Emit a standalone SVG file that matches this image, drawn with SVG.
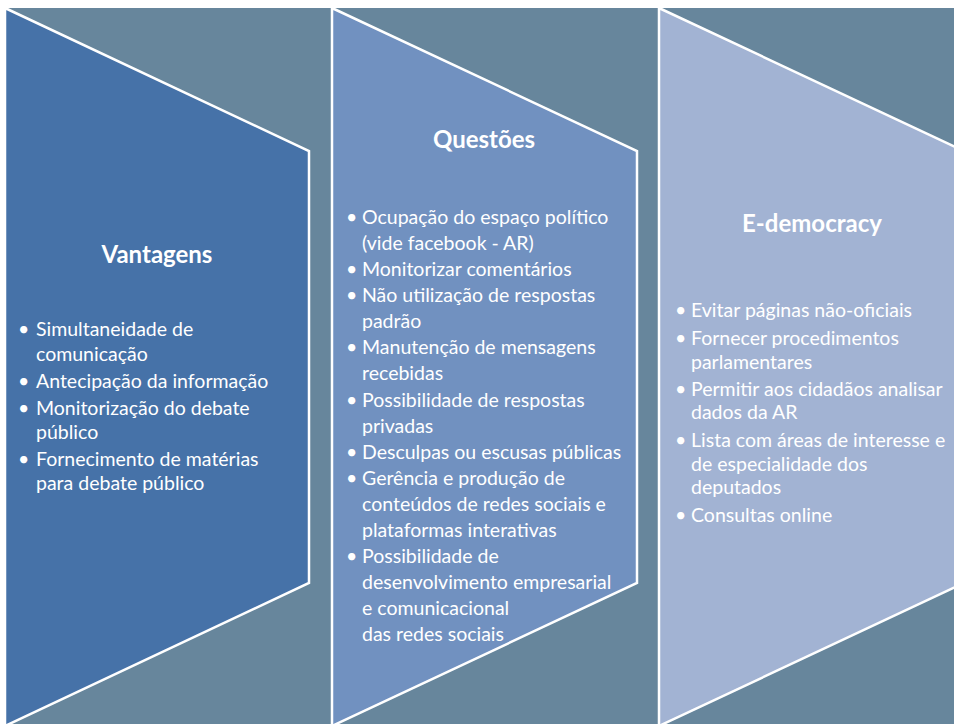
<svg xmlns="http://www.w3.org/2000/svg" width="954" height="724" viewBox="0 0 954 724">
<style>
.bg{fill:#67869c}
.chev{stroke:#ffffff;stroke-width:2.5;stroke-linejoin:miter}
.c1{fill:#4672a8}
.c2{fill:#7191c0}
.c3{fill:#a2b3d3}
.t{font-family:Lato,"Open Sans","Liberation Sans",sans-serif;fill:#ffffff}
.h{font-size:24px;font-weight:bold;text-anchor:middle}
.b{font-size:19.5px}
</style>
<rect x="0" y="0" width="954" height="724" fill="#ffffff"/>
<rect class="bg" x="4" y="8" width="950" height="716"/>
<g id="vantagens">
<polygon class="chev c1" points="5,8 309,151 309,583 5,726"/>
<text class="t h" x="157" y="263">Vantagens</text>
<g class="t b">
<text x="18" y="336">•</text><text x="36" y="336">Simultaneidade de</text>
<text x="36" y="361">comunicação</text>
<text x="18" y="388">•</text><text x="36" y="388">Antecipação da informação</text>
<text x="18" y="415">•</text><text x="36" y="415">Monitorização do debate</text>
<text x="36" y="439">público</text>
<text x="18" y="466">•</text><text x="36" y="466">Fornecimento de matérias</text>
<text x="36" y="490">para debate público</text>
</g>
</g>
<g id="questoes">
<polygon class="chev c2" points="332,8 637,151 637,583 332,726"/>
<text class="t h" x="484" y="148">Questões</text>
<g class="t b">
<text x="346" y="224">•</text><text x="362" y="224">Ocupação do espaço político</text>
<text x="362" y="250">(vide facebook - AR)</text>
<text x="346" y="276">•</text><text x="362" y="276">Monitorizar comentários</text>
<text x="346" y="302">•</text><text x="362" y="302">Não utilização de respostas</text>
<text x="362" y="328">padrão</text>
<text x="346" y="354">•</text><text x="362" y="354">Manutenção de mensagens</text>
<text x="362" y="380">recebidas</text>
<text x="346" y="407">•</text><text x="362" y="407">Possibilidade de respostas</text>
<text x="362" y="433">privadas</text>
<text x="346" y="459">•</text><text x="362" y="459">Desculpas ou escusas públicas</text>
<text x="346" y="485">•</text><text x="362" y="485">Gerência e produção de</text>
<text x="362" y="511">conteúdos de redes sociais e</text>
<text x="362" y="537">plataformas interativas</text>
<text x="346" y="563">•</text><text x="362" y="563">Possibilidade de</text>
<text x="362" y="589">desenvolvimento empresarial</text>
<text x="362" y="615">e comunicacional</text>
<text x="362" y="641">das redes sociais</text>
</g>
</g>
<g id="edemocracy">
<polygon class="chev c3" points="659,8 964,151 964,583 659,726"/>
<text class="t h" x="812" y="232">E-democracy</text>
<g class="t b">
<text x="675" y="317">•</text><text x="691" y="317">Evitar páginas não-oficiais</text>
<text x="675" y="345">•</text><text x="691" y="345">Fornecer procedimentos</text>
<text x="691" y="369">parlamentares</text>
<text x="675" y="396">•</text><text x="691" y="396">Permitir aos cidadãos analisar</text>
<text x="691" y="419">dados da AR</text>
<text x="675" y="447">•</text><text x="691" y="447">Lista com áreas de interesse e</text>
<text x="691" y="471">de especialidade dos</text>
<text x="691" y="494">deputados</text>
<text x="675" y="522">•</text><text x="691" y="522">Consultas online</text>
</g>
</g>
<g id="connectors"/>
</svg>
